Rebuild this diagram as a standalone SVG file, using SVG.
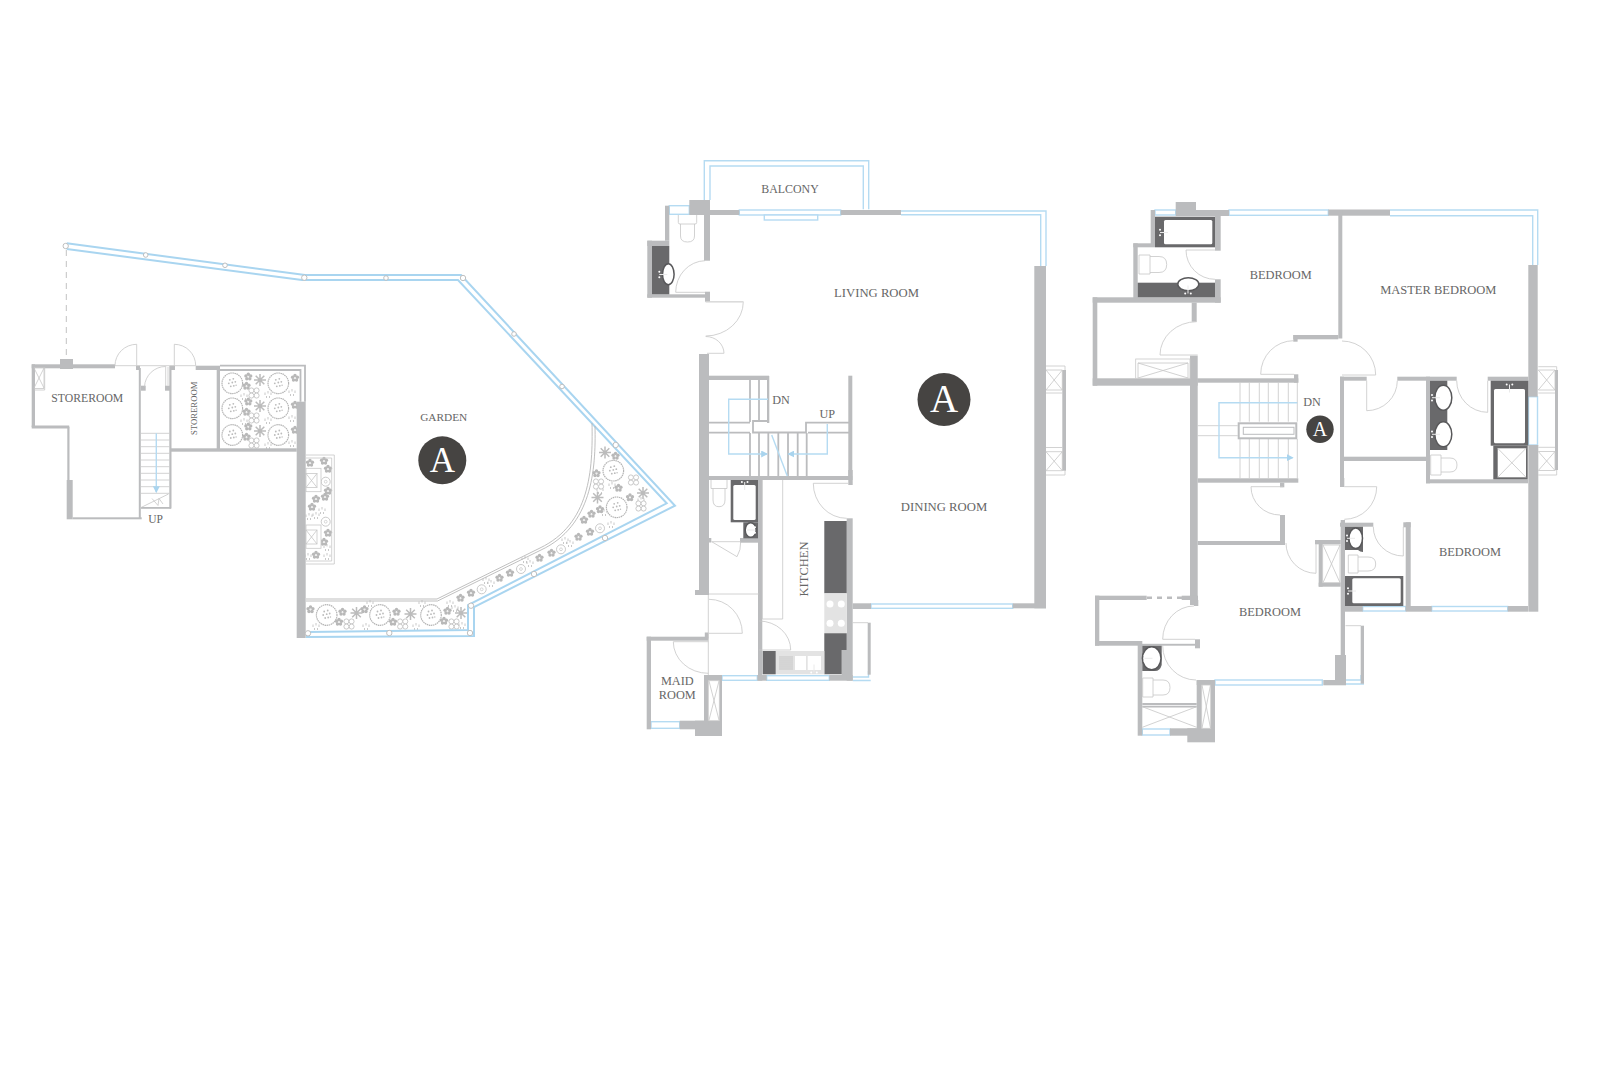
<svg xmlns="http://www.w3.org/2000/svg" xmlns:xlink="http://www.w3.org/1999/xlink" width="1601" height="1080" viewBox="0 0 1601 1080">
<style>
text{font-family:"Liberation Serif","Times New Roman",serif;fill:#666;text-anchor:middle}
.w rect,.w path{fill:#bbbcbe}
.d{fill:#69696b}
.c{fill:#e3e3e3}
.win rect{fill:#fff;stroke:#b5dbf2;stroke-width:1.4}
.bl{fill:none;stroke:#b5dbf2;stroke-width:1.4}
.rail{fill:none;stroke:#a9d5f0;stroke-width:2}
.t{fill:none;stroke:#c6c6c6;stroke-width:.8}
.pb{fill:none;stroke:#b8b8b8;stroke-width:.9}
.s{fill:none;stroke:#bbbcbe;stroke-width:1.8}
.lf{fill:none;stroke:#dcdcdc;stroke-width:1.2}
.wf{fill:#fff;stroke:#c9c9c9;stroke-width:.8}
.sink{fill:#fff;stroke:#58585a;stroke-width:1.5}
.node{fill:#fff;stroke:#b9b9b9;stroke-width:.9}
.badge{fill:#464442}
</style>
<defs>
<marker id="arr" viewBox="0 0 6 6" refX="5" refY="3" markerWidth="5" markerHeight="5" orient="auto"><path d="M0 0L6 3L0 6z" fill="#a9d4ee"/></marker>
<g id="shrub"><circle r="10.3" fill="#fff" stroke="#b4b4b4" stroke-width="1.2" stroke-dasharray="1.5 .6"/><g fill="#bbb"><circle cx="-2.5" cy="-3.5" r=".9"/><circle cx="1" cy="-4.5" r=".9"/><circle cx="3" cy="-1.5" r=".9"/><circle cx="-3.5" cy="0" r=".9"/><circle cx="0" cy="-.8" r=".9"/><circle cx="-1.5" cy="3" r=".9"/><circle cx="1.5" cy="2.5" r=".9"/><circle cx="3.8" cy="2" r=".7"/></g></g>
<g id="star" fill="#b8b8b8"><circle cy="-2.5" r="1.7"/><circle cx="2.4" cy="-.8" r="1.7"/><circle cx="1.5" cy="2" r="1.7"/><circle cx="-1.5" cy="2" r="1.7"/><circle cx="-2.4" cy="-.8" r="1.7"/><circle r=".7" fill="#eee"/></g>
<g id="spiky" stroke="#bcbcbc" stroke-width="1.5" fill="none"><path d="M-6 0H6M0-6V6M-4.3-4.3L4.3 4.3M-4.3 4.3L4.3-4.3"/></g>
<g id="petal" fill="#fff" stroke="#bcbcbc" stroke-width=".8"><circle cx="-2.6" cy="-2.6" r="2.5"/><circle cx="2.6" cy="-2.6" r="2.5"/><circle cx="2.6" cy="2.6" r="2.5"/><circle cx="-2.6" cy="2.6" r="2.5"/></g>
<g id="sprig" fill="none" stroke="#bbb" stroke-width=".8"><path d="M-3-1.5V1M0-3V-.5M3-1.5V1M-1.5 2V4M1.5 2V4"/></g>
<g id="ring"><circle r="4.5" fill="#fff" stroke="#bdbdbd" stroke-width=".8"/><circle r="1.4" fill="none" stroke="#bdbdbd" stroke-width=".6"/></g>
<g id="fc"><circle cy="-2.8" r="1" fill="#fff"/><circle cy="2.8" r="1" fill="#fff"/><path d="M0 0H8" stroke="#eaeaea" stroke-width="1"/></g>
</defs>

<g id="garden-level">
<g id="plants">
<use href="#shrub" x="232.3" y="383.3"/><use href="#shrub" x="278.3" y="383.3"/><use href="#shrub" x="232.3" y="408.3"/><use href="#shrub" x="278.3" y="408.3"/><use href="#shrub" x="232.3" y="435"/><use href="#shrub" x="278.3" y="435"/>
<use href="#star" x="248.3" y="376.7"/><use href="#star" x="248.3" y="401.7"/><use href="#star" x="248.3" y="426.7"/><use href="#star" x="295" y="378"/><use href="#star" x="295" y="405"/><use href="#star" x="295" y="430"/><use href="#star" x="246.5" y="386"/><use href="#star" x="246.5" y="412"/><use href="#star" x="246.5" y="437"/>
<use href="#spiky" x="260" y="380"/><use href="#spiky" x="260" y="406"/><use href="#spiky" x="260" y="431"/>
<use href="#petal" x="254" y="393"/><use href="#petal" x="254" y="418"/><use href="#petal" x="254" y="443"/>
<use href="#sprig" x="268" y="394"/><use href="#sprig" x="268" y="420"/><use href="#sprig" x="268" y="445"/><use href="#sprig" x="292" y="392"/><use href="#sprig" x="292" y="418"/><use href="#sprig" x="292" y="443"/><use href="#sprig" x="244" y="396"/><use href="#sprig" x="244" y="421"/>

<use href="#shrub" x="326.7" y="615"/><use href="#shrub" x="380" y="615"/><use href="#shrub" x="431" y="615"/>
<use href="#star" x="310.5" y="609.5"/><use href="#star" x="342.5" y="612"/><use href="#star" x="364.5" y="609.5"/><use href="#star" x="396.5" y="612"/><use href="#star" x="447.5" y="611"/><use href="#star" x="339" y="622"/><use href="#star" x="393" y="622"/><use href="#star" x="444" y="621"/>
<use href="#spiky" x="356.5" y="613"/><use href="#spiky" x="410.5" y="614"/><use href="#spiky" x="461" y="613"/>
<use href="#petal" x="349" y="624"/><use href="#petal" x="402.7" y="624"/><use href="#petal" x="454" y="624"/>
<use href="#sprig" x="316" y="626"/><use href="#sprig" x="366" y="626"/><use href="#sprig" x="370" y="603"/><use href="#sprig" x="416" y="626"/><use href="#sprig" x="422" y="603"/><use href="#sprig" x="462" y="625"/>

<use href="#ring" x="481.7" y="589.3"/><use href="#ring" x="521" y="569"/><use href="#ring" x="561" y="549.3"/><use href="#ring" x="600" y="528.3"/>
<use href="#star" x="460.5" y="598"/><use href="#star" x="471" y="593"/><use href="#star" x="499.5" y="578"/><use href="#star" x="510" y="573"/><use href="#star" x="539.5" y="558"/><use href="#star" x="551.5" y="553"/><use href="#star" x="578.5" y="537"/><use href="#star" x="590" y="532"/><use href="#star" x="584" y="520"/><use href="#star" x="591.5" y="514"/>
<use href="#sprig" x="450" y="603"/><use href="#sprig" x="455" y="608"/><use href="#sprig" x="491" y="583"/><use href="#sprig" x="486" y="580"/><use href="#sprig" x="530" y="563"/><use href="#sprig" x="525" y="559"/><use href="#sprig" x="570" y="543"/><use href="#sprig" x="565" y="540"/><use href="#sprig" x="611" y="524"/><use href="#sprig" x="604" y="512"/><use href="#sprig" x="612" y="485"/><use href="#sprig" x="600" y="490"/><use href="#sprig" x="641" y="500"/>

<use href="#shrub" x="613.3" y="470.7"/><use href="#shrub" x="616.7" y="507.3"/>
<use href="#spiky" x="605" y="452.5"/><use href="#spiky" x="597.5" y="497.5"/><use href="#spiky" x="643" y="493"/>
<use href="#star" x="618.5" y="488"/><use href="#star" x="630" y="497.5"/><use href="#star" x="596.5" y="473.5"/><use href="#star" x="600" y="509.5"/><use href="#star" x="615.5" y="456"/>
<use href="#petal" x="633.5" y="480"/><use href="#petal" x="598.5" y="484"/><use href="#petal" x="641" y="506"/>

<use href="#ring" x="325.7" y="481.7"/><use href="#ring" x="325.7" y="521.7"/>
<use href="#star" x="310" y="463"/><use href="#star" x="324" y="461"/><use href="#star" x="328" y="469"/><use href="#star" x="316" y="499"/><use href="#star" x="325" y="497"/><use href="#star" x="328" y="491"/><use href="#star" x="312" y="507"/><use href="#star" x="324" y="542"/><use href="#star" x="328" y="533"/><use href="#star" x="316" y="555"/>
<use href="#sprig" x="309" y="516"/><use href="#sprig" x="316" y="515"/><use href="#sprig" x="322" y="510"/><use href="#sprig" x="327" y="547"/><use href="#sprig" x="327" y="556"/><use href="#sprig" x="308" y="556"/>
</g>

<g id="garden-structure">
<path class="rail" d="M66.7 243.3L305 275L461 275L675 505.7L474 607L474 636L306 637"/>
<path class="rail" d="M66.7 249L302 280L458 280L666.7 503.3L468 605L468 630L308 632"/>
<path d="M66.3 250V358" fill="none" stroke="#bbb" stroke-width=".9" stroke-dasharray="6 5"/>
<path class="pb" d="M306 599H437L540 548C590 524 593 470 592 423"/>
<path class="pb" d="M306 601H437.5L541 550C592 526 596 470 595 426"/>
<path class="s" d="M220 365.7H305V401.7M220 370H300.5V401.7" stroke-width=".9"/>
<path class="t" d="M306 455H334.3V564H306M306 458H331.7V561H306"/>
<rect class="wf" x="306" y="468.3" width="15" height="23.4"/><rect class="wf" x="306" y="473.5" width="11" height="14"/><path class="t" d="M306 473.5L317 487.5M306 487.5L317 473.5"/>
<rect class="wf" x="306" y="525" width="15" height="23.3"/><rect class="wf" x="306" y="530" width="11" height="14"/><path class="t" d="M306 530L317 544M306 544L317 530"/>
<g class="w">
<rect x="296.7" y="401.7" width="9" height="236.3"/>
<rect x="60" y="359" width="13" height="10"/>
<rect x="31.7" y="364.3" width="83.3" height="4"/>
<rect x="31.7" y="364.3" width="3.3" height="62.7"/>
<rect x="31.7" y="425.5" width="37.5" height="3"/>
<rect x="67.3" y="426.7" width="2.2" height="54"/>
<rect x="66.7" y="480" width="6" height="39.3"/>
<rect x="72.7" y="517.3" width="69" height="2"/>
<rect x="136" y="365.7" width="4" height="4.3"/>
<rect x="138.8" y="368" width="2" height="150"/>
<rect x="141" y="385.7" width="4.7" height="5"/>
<rect x="165" y="385.7" width="5" height="5"/>
<rect x="169.3" y="366" width="2.2" height="142.5"/>
<rect x="170" y="365.7" width="5" height="4.3"/>
<rect x="195.7" y="365.7" width="24.3" height="4.3"/>
<rect x="216.7" y="368" width="3.3" height="82"/>
<rect x="170.7" y="448.3" width="126" height="3.4"/>
<rect x="141" y="507" width="30" height="1.8"/>
</g>
<path class="t" d="M33.8 367.5H44V388.5H33.8M44.7 367V390H34M34 368L44 388M34 388L44 368"/>
<path class="t" d="M115 365.7A21.7 21.4 0 0 1 136.7 344.3V365.7H115M136.7 365.7H174.3M174.3 365.7V344.3A21.4 21.4 0 0 1 195.7 365.7H174.3"/>
<path class="t" d="M144.5 386.5A21.2 21.2 0 0 1 165.7 366.5V386"/>
<path class="lf" d="M168 367V386" stroke-width=".8"/>
<path class="t" d="M141 433.3H169.5M141 440H169.5M141 446.7H169.5M141 453.3H169.5M141 460H169.5M141 466.7H169.5M141 473.3H169.5M141 480H169.5M141 486.7H169.5M141 493.3H169.5M141 507.5L168.5 494M152 498.5L158 505.5L159 498.5L163 504"/>
<path class="bl" d="M156.3 433.3V492" marker-end="url(#arr)"/>
<g id="garden-nodes">
<circle class="node" cx="65.7" cy="246" r="2.7"/><circle class="node" cx="145.7" cy="255" r="2.3"/><circle class="node" cx="225" cy="265.3" r="2.3"/><circle class="node" cx="304.3" cy="277.7" r="2.7"/><circle class="node" cx="386" cy="278" r="2.3"/><circle class="node" cx="463" cy="278" r="2.7"/><circle class="node" cx="514" cy="334" r="2.3"/><circle class="node" cx="562" cy="386.5" r="2.3"/><circle class="node" cx="615.7" cy="445" r="2.7"/><circle class="node" cx="605" cy="538" r="2.7"/><circle class="node" cx="534" cy="574" r="2.7"/><circle class="node" cx="471" cy="605.7" r="2.7"/><circle class="node" cx="470" cy="633" r="2.7"/><circle class="node" cx="389.3" cy="633" r="2.7"/><circle class="node" cx="308" cy="633.3" r="2.7"/>
</g>
<text x="87.3" y="402.3" font-size="11.7">STOREROOM</text>
<text transform="translate(196.6 408.3) rotate(-90)" font-size="8.7">STOREROOM</text>
<text x="155.5" y="523" font-size="11.5">UP</text>
<text x="443.7" y="421" font-size="11.3">GARDEN</text>
<circle class="badge" cx="442.3" cy="460.3" r="24"/><text x="442.3" y="471.5" font-size="35" style="fill:#fff">A</text>
</g>
</g>

<g id="first-floor">
<path class="bl" d="M704.3 200V160.7H868.7V209.3M710 200V166H863.3V209.3"/>
<path class="bl" d="M901 211H1046V266M901 214.7H1040.7V266"/>
<g class="win">
<rect x="669.3" y="205.7" width="20" height="8.6"/>
<rect x="739.3" y="210" width="101.4" height="5"/>
<rect x="764.3" y="215" width="53.4" height="5"/>
<rect x="871" y="604" width="141.7" height="4.3"/>
<rect x="722" y="675.7" width="35.3" height="4.6"/>
<rect x="766.7" y="675.7" width="62.6" height="4.6"/>
<rect x="651" y="721.7" width="28.7" height="6.6"/>
<path class="bl" d="M852.7 677H868.5V671M852.7 680.5H870.7"/>
</g>
<g class="w">
<rect x="689.3" y="200" width="20.7" height="15"/>
<rect x="710" y="210" width="29.3" height="5"/>
<rect x="840.7" y="210" width="60.3" height="5"/>
<rect x="665" y="205.7" width="4.3" height="35"/>
<rect x="704" y="215" width="6" height="45.7"/>
<rect x="647.3" y="240.7" width="22" height="5.3"/>
<rect x="647.3" y="240.7" width="4.7" height="57"/>
<rect x="647.3" y="294.3" width="58" height="3.4"/>
<rect x="705" y="291.7" width="5" height="10"/>
<rect x="699" y="354" width="10" height="240"/>
<rect x="695" y="590" width="14" height="5"/>
<rect x="709" y="375.7" width="60" height="4.3"/>
<rect x="767" y="376" width="2.3" height="47"/>
<rect x="848.3" y="375.7" width="4" height="104.3"/>
<rect x="709" y="476" width="143.3" height="4"/>
<rect x="848.3" y="470" width="4.4" height="15"/>
<rect x="758" y="480" width="4.3" height="200.7"/>
<rect x="740" y="538" width="18" height="4.7"/>
<rect x="708" y="538" width="3.3" height="4.5"/>
<rect x="646.7" y="636.7" width="61.5" height="4"/>
<rect x="646.7" y="636.7" width="4.3" height="92.6"/>
<rect x="679.7" y="720.7" width="24.3" height="8.6"/>
<rect x="695" y="720.7" width="27" height="15.3"/>
<rect x="704" y="675" width="18" height="5.7"/>
<rect x="704" y="675" width="4.3" height="50"/>
<rect x="719.3" y="675" width="2.7" height="50"/>
<rect x="704.8" y="632.5" width="3.7" height="6"/>
<rect x="757.3" y="675" width="9.4" height="5.7"/>
<rect x="829.3" y="675" width="23.4" height="5.7"/>
<rect x="846.7" y="518.3" width="6" height="162.4"/>
<rect x="841.7" y="650" width="6" height="26"/>
<rect x="852.7" y="603.3" width="18.3" height="5.7"/>
<rect x="867.7" y="622.7" width="3" height="52"/>
<rect x="1034.3" y="266" width="11.7" height="342.3"/>
<rect x="1012.7" y="603.3" width="33.3" height="5"/>
<rect x="1062.3" y="370" width="3.7" height="100.7"/>
</g>
<path class="t" d="M852.7 622.7H868"/>
<rect class="d" x="652" y="246" width="17.3" height="48.3"/><ellipse class="sink" cx="668.3" cy="274.3" rx="5.8" ry="10.5"/>
<use href="#fc" transform="translate(659.3 274.5)"/>
<path class="t" d="M678.3 215V222.5Q678.3 224 680 224H695Q696.7 224 696.7 222.5V215M680.5 224V236Q680.5 242 687.5 242Q694.5 242 694.5 236V224"/>
<path class="t" d="M705 260.7A30 31.6 0 0 0 675.7 292.3H705"/>
<path class="t" d="M705.7 301.7H743.3A37.6 34.3 0 0 1 705.7 336M705.7 336.5A18.3 17 0 0 1 724 353.3H707"/>
<path class="lf" d="M705.7 302H743M707 353.5H724" stroke-width=".9"/>
<path class="s" d="M750 380V422M759 380V422"/>
<path class="s" d="M768 421H753V432.5H806V422.7H849" stroke-width="2.2"/>
<path class="s" d="M709 422.7H750M709 432.7H750M808 432.7H849" stroke-width="1.7"/>
<path class="s" d="M750 433V476M759 433V476M768.3 433V476M778.3 433V476M788 433V476M797.7 433V476M806.7 433V476"/>
<path class="bl" d="M768 399.3H728.7V454H767" marker-end="url(#arr)"/>
<path class="bl" d="M827.3 424V454H788.5" marker-end="url(#arr)"/>
<path class="bl" d="M771.7 435L787.3 476"/>
<rect class="d" x="730.7" y="480" width="27.3" height="42.3"/><rect x="733.3" y="485" width="22.4" height="35" rx="1.5" fill="#fff"/>
<use href="#fc" transform="translate(744.7 482) rotate(90)"/>
<rect class="d" x="743.3" y="522.3" width="14.7" height="16"/><ellipse class="sink" cx="750.7" cy="530" rx="5.5" ry="7.3"/>
<use href="#fc" transform="translate(755 530) rotate(180)"/>
<path class="t" d="M711 480V488.5H727V480M713 488.5V500Q713 506.7 719 506.7Q725 506.7 725 500V488.5"/>
<path class="t" d="M711.7 541.7H740.7Q741 550 737 556.7L711.7 541.7"/>
<path class="t" d="M709 594H759M708.3 595V675M709 599.3A33.3 34 0 0 1 742.3 633.3H709M708.3 673.3A35 31.6 0 0 1 673.3 641.7H708.3"/>
<path class="t" d="M762.3 480V619H782.7V480"/>
<path class="t" d="M759 621A31.7 29 0 0 1 790.7 650H759"/>
<path class="t" d="M813.3 483.3H848M813.3 483.3A33.4 35 0 0 0 846.7 518.3"/>
<rect class="d" x="824.3" y="521" width="22.4" height="72.3"/>
<rect class="c" x="824.3" y="593.3" width="22.4" height="40"/>
<g fill="#fff"><circle cx="830" cy="604" r="3.5"/><circle cx="841.3" cy="604" r="3.5"/><circle cx="830" cy="623.3" r="3.5"/><circle cx="841.3" cy="623.3" r="3.5"/></g>
<path class="d" d="M824.3 633.3H846.7V650H841.7V674.3H824.3z"/>
<rect class="c" x="775.7" y="651" width="48.6" height="23.3"/>
<rect class="d" x="762.7" y="651" width="13" height="23.3"/>
<rect x="795" y="656" width="11" height="14" fill="#fff"/><rect x="807.7" y="656" width="13.3" height="14" fill="#fff"/>
<path d="M779 657H793M779 659H793M779 661H793M779 663H793M779 665H793M779 667H793M779 669H793" stroke="#b9b9b9" stroke-width=".7"/>
<use href="#fc" transform="translate(814 672.5) rotate(-90)"/>
<rect class="wf" x="708.3" y="680.7" width="11" height="40"/><path class="t" d="M709 681L719 720M709 720L719 681"/>
<path class="t" d="M1046 366H1065V370M1046 370H1062.3V390H1046M1046 393H1062.3M1046 370L1062.3 390M1046 390L1062.3 370M1046 447.5H1062.3M1046 451.7H1062.3V470.7H1046M1046 451.7L1062.3 470.7M1046 470.7L1062.3 451.7M1046 475H1065V470"/>
<text x="790" y="193" font-size="11.9">BALCONY</text>
<text x="876.5" y="297.3" font-size="12.7">LIVING ROOM</text>
<text x="781" y="403.5" font-size="12.2">DN</text>
<text x="827.3" y="417.5" font-size="12.2">UP</text>
<text x="944" y="511.3" font-size="12.7">DINING ROOM</text>
<text transform="translate(808.4 569) rotate(-90)" font-size="12.5">KITCHEN</text>
<text x="677.3" y="685.3" font-size="12.3">MAID</text><text x="677.3" y="699" font-size="12.3">ROOM</text>
<circle class="badge" cx="944" cy="399.5" r="26.5"/><text x="944" y="412" font-size="39" style="fill:#fff">A</text>
</g>

<g id="second-floor">
<path class="bl" d="M1390 210H1537.7V265M1390 215.7H1532.7V265"/>
<g class="win">
<rect x="1155" y="210" width="20.7" height="5"/>
<rect x="1229" y="210" width="99.3" height="5.3"/>
<rect x="1528.5" y="396.7" width="9" height="48.3"/>
<rect x="1215" y="680" width="107.3" height="5"/>
<rect x="1142.3" y="729" width="27.7" height="6"/>
<rect x="1362.7" y="606.5" width="43" height="4.5"/>
<rect x="1431.7" y="606.5" width="76" height="4.5"/>
<path class="bl" d="M1346 680H1361V675M1346 684H1364"/>
</g>
<g class="w">
<rect x="1175.7" y="202" width="20.3" height="14"/>
<rect x="1150.7" y="210" width="4.3" height="37"/>
<rect x="1196" y="210" width="33" height="6"/>
<rect x="1328.3" y="209.5" width="61.7" height="6.2"/>
<rect x="1338.3" y="210" width="4" height="128.5"/>
<rect x="1215" y="216" width="5.7" height="34.7"/>
<rect x="1133.3" y="243.3" width="21.7" height="4"/>
<rect x="1133.3" y="243.3" width="4.4" height="58.4"/>
<rect x="1215" y="279.3" width="5.7" height="23.4"/>
<rect x="1092.7" y="297.3" width="128" height="5.4"/>
<rect x="1092.7" y="297.3" width="4.6" height="88.4"/>
<rect x="1092.7" y="378.3" width="105" height="7.4"/>
<rect x="1191.7" y="302.7" width="5" height="19"/>
<rect x="1190" y="355.7" width="7.7" height="249.3"/>
<rect x="1197.7" y="378.3" width="100.6" height="4.4"/>
<rect x="1294" y="374.3" width="4.3" height="8.4"/>
<rect x="1293.3" y="335" width="45" height="4.3"/>
<rect x="1293.3" y="335" width="4.3" height="6.7"/>
<rect x="1340" y="376.7" width="26.7" height="4"/>
<rect x="1340" y="376.7" width="4" height="110"/>
<rect x="1397.3" y="376.7" width="59.4" height="4"/>
<rect x="1487.7" y="376.7" width="40.6" height="4"/>
<rect x="1426" y="376.7" width="4" height="106.6"/>
<rect x="1344" y="456.7" width="82" height="4.3"/>
<rect x="1426" y="479.3" width="102" height="4"/>
<rect x="1528.3" y="265" width="9.4" height="131.7"/>
<rect x="1528.3" y="445" width="10" height="166.7"/>
<rect x="1555" y="370" width="3" height="100"/>
<rect x="1507.7" y="606" width="20.3" height="5.7"/>
<rect x="1405.7" y="606" width="26" height="5.7"/>
<rect x="1345" y="606" width="17.7" height="5.7"/>
<rect x="1403.3" y="522.3" width="7.4" height="5"/>
<rect x="1405.7" y="522.3" width="5" height="88.7"/>
<rect x="1340" y="522.7" width="33.3" height="4"/>
<rect x="1340.7" y="520" width="4.3" height="143.3"/>
<rect x="1335" y="655" width="11" height="25"/>
<rect x="1323.3" y="680" width="22.7" height="5.3"/>
<rect x="1360.7" y="625.7" width="3.3" height="58"/>
<rect x="1197.7" y="478.3" width="100.6" height="4.4"/>
<rect x="1280" y="482.7" width="4.3" height="4.6"/>
<rect x="1280" y="515" width="5" height="30"/>
<rect x="1197.7" y="541" width="86.3" height="4"/>
<rect x="1340" y="478" width="4.3" height="9"/>
<rect x="1315" y="540" width="25.7" height="4.3"/>
<rect x="1318.7" y="544" width="4" height="42.7"/>
<rect x="1318.7" y="582.7" width="22" height="4"/>
<rect x="1095" y="595.7" width="51.7" height="4.3"/>
<rect x="1181.7" y="595.7" width="16.3" height="4.3"/>
<rect x="1194" y="600" width="4.3" height="6"/>
<rect x="1095" y="595.7" width="4.3" height="50"/>
<rect x="1095" y="641" width="47" height="4.7"/>
<rect x="1142" y="643.8" width="53" height="1.9"/>
<rect x="1195" y="639.3" width="5" height="9"/>
<rect x="1137.7" y="641" width="4.6" height="94.7"/>
<rect x="1196.7" y="680" width="18.3" height="5"/>
<rect x="1196.7" y="680" width="5" height="50"/>
<rect x="1210.7" y="680" width="4.3" height="50"/>
<rect x="1170" y="728.3" width="26.7" height="7.4"/>
<rect x="1187.3" y="728.3" width="27.7" height="14"/>
</g>
<path d="M1147 597.8H1182" stroke="#bbbcbe" stroke-width="2.4" stroke-dasharray="5 5" fill="none"/>
<rect class="d" x="1155" y="216.7" width="60" height="30.6"/><rect x="1164" y="220" width="48.3" height="24.3" rx="1.5" fill="#fff"/>
<use href="#fc" transform="translate(1160 232.5)"/>
<rect class="d" x="1137.7" y="282.7" width="77.3" height="14.6"/><ellipse class="sink" cx="1188.3" cy="284.3" rx="10.5" ry="6.5"/>
<use href="#fc" transform="translate(1188 293.5) rotate(-90)"/>
<path class="t" d="M1139 255V274H1150V255H1139M1150 256.5H1159Q1166.7 256.5 1166.7 264.5Q1166.7 272.5 1159 272.5H1150"/>
<path class="t" d="M1215 279.3A29 29.3 0 0 1 1186 250H1215"/>
<path class="t" d="M1196.7 321.7A36.7 33.3 0 0 0 1160 355H1197.7"/>
<rect class="wf" x="1135.7" y="359" width="54.3" height="19.3"/><path class="t" d="M1138 363H1188V378M1138 378V363M1138 378L1188 363M1138 363L1188 378"/>
<path class="t" d="M1293.7 340.7A33 33.6 0 0 0 1260.7 374.3H1294M1342 341A33.7 34 0 0 1 1375.7 375H1342"/>
<path class="t" d="M1240 382.7V421.7M1249.3 382.7V421.7M1259.3 382.7V421.7M1268.3 382.7V421.7M1278.3 382.7V421.7M1288.3 382.7V421.7M1297.3 382.7V421.7M1240 439V478.3M1249.3 439V478.3M1259.3 439V478.3M1268.3 439V478.3M1278.3 439V478.3M1288.3 439V478.3M1297.3 439V478.3M1197.7 425.7H1237.7M1197.7 435.7H1237.7"/>
<rect x="1238.7" y="423.3" width="57.6" height="15" fill="#fff" stroke="#bbbcbe" stroke-width="2"/>
<rect x="1243.3" y="427.3" width="50.7" height="7" fill="#fff" stroke="#bbbcbe" stroke-width="1"/>
<path class="bl" d="M1297.3 402.7H1219V457.7H1292.5" marker-end="url(#arr)"/>
<rect class="d" x="1430" y="380.7" width="17.3" height="69.3"/>
<ellipse class="sink" cx="1443.3" cy="397.7" rx="8.5" ry="12.5"/><ellipse class="sink" cx="1443.3" cy="434.3" rx="8.5" ry="12.5"/>
<use href="#fc" transform="translate(1432 397.7)"/><use href="#fc" transform="translate(1432 434.3)"/>
<path class="t" d="M1366.7 380.7V410.7A30.6 30 0 0 0 1397.3 380.7M1456.7 380.7A31 31.6 0 0 0 1487.7 412.3V380.7"/>
<rect class="d" x="1490.7" y="380.7" width="37.6" height="65"/><rect x="1494" y="389" width="31" height="54.3" rx="1.5" fill="#fff"/>
<use href="#fc" transform="translate(1509.5 384.5) rotate(90)"/>
<rect class="d" x="1493.3" y="445.7" width="34.4" height="33.6"/><rect x="1497.7" y="448.3" width="28.3" height="29" fill="#fff"/>
<path class="t" d="M1497.7 448.3L1526 477.3M1497.7 477.3L1526 448.3"/>
<path class="t" d="M1430.7 455V475H1441V455H1430.7M1441 458H1450Q1457 458 1457 465Q1457 472 1450 472H1441"/>
<path class="t" d="M1538.3 366.7H1556.7V370M1538.3 370H1555V390H1538.3M1538.3 393H1555M1538.3 370L1555 390M1538.3 390L1555 370M1538.3 447.3H1555M1538.3 451.5H1555V470.5H1538.3M1538.3 451.5L1555 470.5M1538.3 470.5L1555 451.5M1538.3 475H1556.7V470"/>
<path class="t" d="M1251 486.7H1283M1251 486.7A29 28.3 0 0 0 1280 515M1344.3 486.7H1376.7M1376.7 486.7A32.4 32.6 0 0 1 1344.3 519.3"/>
<path class="t" d="M1286 543A30 30.3 0 0 0 1316 573.3V544"/>
<rect class="wf" x="1322.7" y="545" width="17.3" height="37.7"/><path class="t" d="M1323 545L1340 582.7M1323 582.7L1340 545"/>
<path class="d" d="M1345 526.7H1363V552Q1360 552 1358 550H1345z"/><ellipse class="sink" cx="1355.7" cy="538.3" rx="6.8" ry="10.3"/>
<use href="#fc" transform="translate(1347 538.3)"/>
<path class="t" d="M1348.3 555V573H1358V555H1348.3M1358 557H1368Q1375.7 557 1375.7 564Q1375.7 571 1368 571H1358"/>
<rect class="d" x="1345" y="576" width="58.3" height="30"/><rect x="1352.3" y="578.3" width="48.4" height="25" rx="1.5" fill="#fff"/>
<use href="#fc" transform="translate(1348 591)"/>
<path class="t" d="M1373.3 526.7A30 29.3 0 0 0 1403.3 556V527"/>
<path class="t" d="M1194 606A31.3 33.3 0 0 0 1162.7 639.3H1195"/>
<path class="d" d="M1142.3 645.7H1161.7V665Q1160 671 1155 671H1142.3z"/><ellipse class="sink" cx="1151.7" cy="658.3" rx="9.3" ry="11.5"/>
<use href="#fc" transform="translate(1144.5 658.3)"/>
<path class="t" d="M1142.7 678V697H1153V678H1142.7M1153 680H1163Q1170 680 1170 687.5Q1170 695 1163 695H1153"/>
<path class="t" d="M1162.7 645.7A33.3 34.3 0 0 0 1196 680"/>
<path class="s" d="M1142.3 704H1196.7M1142.3 706.7H1196.7" stroke-width=".8"/>
<path class="t" d="M1142.3 706.7L1196.7 727.3M1142.3 727.3L1196.7 706.7"/>
<rect class="wf" x="1201.7" y="685" width="9" height="43.3"/><path class="t" d="M1202 685L1210.5 728M1202 728L1210.5 685"/>
<path class="t" d="M1345.5 625.7H1361"/>
<text x="1280.7" y="279.3" font-size="12.4">BEDROOM</text>
<text x="1438.3" y="294.3" font-size="12.5">MASTER BEDROOM</text>
<text x="1470" y="556" font-size="12.4">BEDROOM</text>
<text x="1270" y="616.3" font-size="12.4">BEDROOM</text>
<text x="1312" y="406.2" font-size="12.2">DN</text>
<circle class="badge" cx="1320" cy="429.3" r="13.7"/><text x="1320" y="436" font-size="20" style="fill:#fff">A</text>
</g>
</svg>
